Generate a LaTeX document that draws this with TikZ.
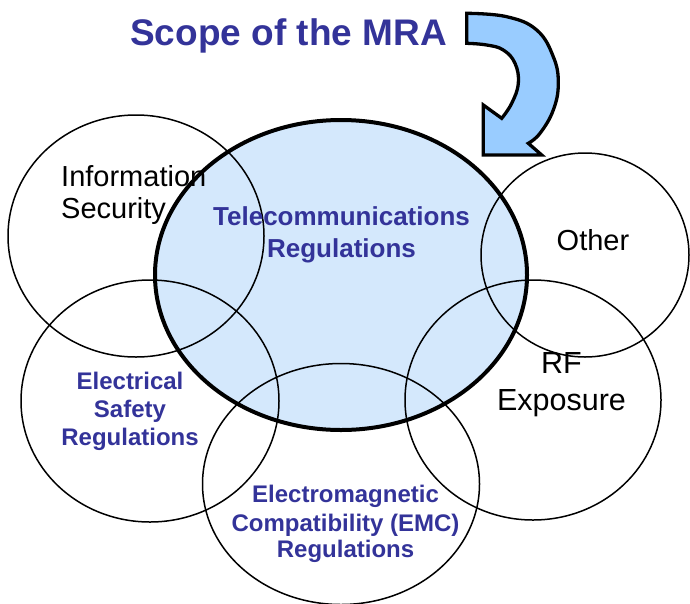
\documentclass[tikz,border=0pt]{standalone}
\usepackage{fontspec}
\setmainfont{Liberation Sans}
\usetikzlibrary{shapes.geometric}
\definecolor{mrablue}{HTML}{333399}
\definecolor{telefill}{HTML}{D4E8FC}
\definecolor{arrowfill}{HTML}{99CCFF}
\tikzset{
  circ/.style={ellipse, draw=black, line width=1.5pt, inner sep=0pt, outer sep=0pt},
  bluetxt/.style={text=mrablue, font=\bfseries\fontsize{24}{28}\selectfont, inner sep=0pt, anchor=base},
  blacktxt/.style={text=black, font=\fontsize{29}{33}\selectfont, inner sep=0pt, anchor=base},
  arrowshape/.style={draw=black, fill=arrowfill, line width=3.3pt, line join=miter}
}
\begin{document}
\begin{tikzpicture}[x=1pt, y=-1pt]
\useasboundingbox (0,0) rectangle (690,603);
% telecom fill
\node[ellipse, fill=telefill, minimum width=372pt, minimum height=310pt, inner sep=0pt] (telefillnode) at (341,275) {};
% surrounding circles
\node[circ, minimum width=256pt, minimum height=242pt] (info) at (136,236) {};
\node[circ, minimum width=208pt, minimum height=204pt] (other) at (585,255) {};
\node[circ, minimum width=256pt, minimum height=240pt] (rf) at (533,400) {};
\node[circ, minimum width=258pt, minimum height=242pt] (elec) at (150,401) {};
\node[circ, minimum width=277pt, minimum height=241pt] (emc) at (341,484) {};
% telecom border
\node[ellipse, draw=black, line width=4pt, minimum width=372pt, minimum height=310pt, inner sep=0pt] (telecom) at (341,275) {};
% title
\node[text=mrablue, font=\bfseries\fontsize{37}{44}\selectfont, inner sep=0pt, anchor=base] (title) at (288.5,45) {Scope of the MRA};
% curved arrow
\draw[arrowshape] plot[smooth, tension=0.7] coordinates {(466.7,13.3) (506.7,16.7) (536.7,30) (553.3,56.7) (558.3,83.3) (553.3,110) (540,133.3) (528.3,143.3)}
  -- (541.7,155) -- (483.3,155) -- (483.3,105) -- (501.7,118.3)
  -- plot[smooth, tension=0.7] coordinates {(501.7,118.3) (511.7,103.3) (518.3,83.3) (515,63.3) (503.3,50) (486.7,45) (466.7,43.3)}
  -- cycle;
% texts
\node[blacktxt, anchor=base west] (info1) at (61,186) {Information};
\node[blacktxt, anchor=base west] (info2) at (61,218) {Security};
\node[bluetxt, font=\bfseries\fontsize{26}{30}\selectfont] (tel1) at (341.5,225) {Telecommunications};
\node[bluetxt, font=\bfseries\fontsize{26}{30}\selectfont] (tel2) at (341.5,257) {Regulations};
\node[blacktxt] (oth) at (593,250) {Other};
\node[blacktxt, font=\fontsize{30.5}{34}\selectfont] (rf1) at (561.5,373) {RF};
\node[blacktxt, font=\fontsize{30.5}{34}\selectfont] (rf2) at (561.5,410) {Exposure};
\node[bluetxt] (el1) at (130,389) {Electrical};
\node[bluetxt] (el2) at (130,417) {Safety};
\node[bluetxt] (el3) at (130,445) {Regulations};
\node[bluetxt] (em1) at (345.5,502) {Electromagnetic};
\node[bluetxt] (em2) at (345.5,531) {Compatibility (EMC)};
\node[bluetxt] (em3) at (345.5,557) {Regulations};
\end{tikzpicture}
\end{document}
